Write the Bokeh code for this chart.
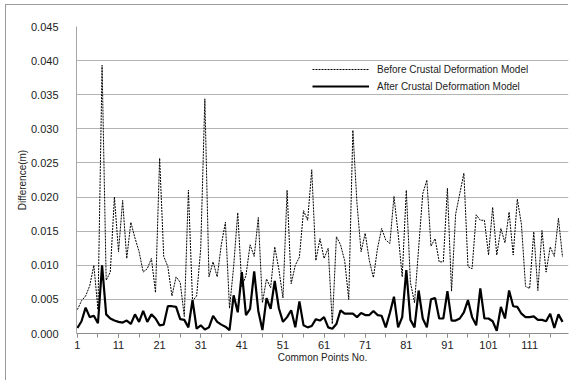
from bokeh.plotting import figure
from bokeh.models import Range1d, FixedTicker, NumeralTickFormatter, Legend, LegendItem
from bokeh.embed import file_html
from bokeh.resources import INLINE

# ---- data ----
point_no = list(range(1, 120))

before_model = [
    0.0035, 0.0048, 0.0055, 0.0070, 0.0100, 0.0035, 0.0393, 0.0078, 0.0090, 0.0200,
    0.0120, 0.0195, 0.0110, 0.0163, 0.0140, 0.0120, 0.0090, 0.0095, 0.0110, 0.0060,
    0.0257, 0.0113, 0.0098, 0.0055, 0.0083, 0.0075, 0.0025, 0.0210, 0.0048, 0.0055,
    0.0125, 0.0344, 0.0083, 0.0105, 0.0083, 0.0130, 0.0163, 0.0037, 0.0098, 0.0177,
    0.0068, 0.0085, 0.0130, 0.0113, 0.0170, 0.0045, 0.0080, 0.0067, 0.0127, 0.0094,
    0.0052, 0.0210, 0.0073, 0.0100, 0.0112, 0.0180, 0.0166, 0.0240, 0.0107, 0.0139,
    0.0110, 0.0125, 0.0014, 0.0142, 0.0130, 0.0107, 0.0050, 0.0298, 0.0191, 0.0120,
    0.0147, 0.0107, 0.0082, 0.0125, 0.0154, 0.0137, 0.0132, 0.0201, 0.0147, 0.0083,
    0.0210, 0.0075, 0.0045, 0.0125, 0.0205, 0.0225, 0.0128, 0.0139, 0.0105, 0.0105,
    0.0213, 0.0062, 0.0175, 0.0205, 0.0235, 0.0098, 0.0095, 0.0174, 0.0166, 0.0166,
    0.0115, 0.0185, 0.0115, 0.0154, 0.0133, 0.0178, 0.0115, 0.0197, 0.0160, 0.0069,
    0.0066, 0.0149, 0.0063, 0.0151, 0.0090, 0.0127, 0.0113, 0.0169, 0.0112,
]

after_model = [
    0.0008, 0.0018, 0.0038, 0.0024, 0.0026, 0.0015, 0.0100, 0.0028, 0.0022, 0.0019,
    0.0017, 0.0016, 0.0019, 0.0014, 0.0028, 0.0017, 0.0033, 0.0017, 0.0028, 0.0022,
    0.0012, 0.0013, 0.0040, 0.0040, 0.0039, 0.0021, 0.0020, 0.0009, 0.0049, 0.0007,
    0.0012, 0.0006, 0.0009, 0.0026, 0.0017, 0.0013, 0.0010, 0.0005, 0.0056, 0.0031,
    0.0090, 0.0027, 0.0036, 0.0091, 0.0033, 0.0005, 0.0052, 0.0036, 0.0077, 0.0037,
    0.0017, 0.0024, 0.0034, 0.0009, 0.0047, 0.0012, 0.0009, 0.0011, 0.0021, 0.0019,
    0.0024, 0.0009, 0.0007, 0.0014, 0.0034, 0.0029, 0.0029, 0.0029, 0.0024, 0.0030,
    0.0027, 0.0027, 0.0033, 0.0027, 0.0026, 0.0009, 0.0030, 0.0054, 0.0009, 0.0024,
    0.0093, 0.0020, 0.0009, 0.0063, 0.0022, 0.0009, 0.0050, 0.0052, 0.0022, 0.0022,
    0.0062, 0.0019, 0.0019, 0.0022, 0.0031, 0.0049, 0.0024, 0.0012, 0.0066, 0.0022,
    0.0022, 0.0018, 0.0004, 0.0039, 0.0022, 0.0063, 0.0040, 0.0039, 0.0029, 0.0024,
    0.0024, 0.0025, 0.0020, 0.0020, 0.0018, 0.0029, 0.0008, 0.0028, 0.0017,
]

x_tick_labels = [1, 11, 21, 31, 41, 51, 61, 71, 81, 91, 101, 111]
x_minor_ticks = list(range(1, 120, 5))
y_ticks = [0.0, 0.005, 0.010, 0.015, 0.020, 0.025, 0.030, 0.035, 0.040, 0.045]

series_labels = ["Before Crustal Deformation Model", "After Crustal Deformation Model"]

FONT = "Liberation Sans"
TEXT = "#222222"

p = figure(width=563, height=376, output_backend="svg", toolbar_location=None,
           x_range=Range1d(0.78, 120.45), y_range=Range1d(0.0, 0.045),
           min_border_left=70, min_border_right=1, min_border_top=21, min_border_bottom=48)
p.outline_line_color = None
p.background_fill_color = "white"
p.border_fill_color = "white"
p.styles = {"margin-left": "6px", "margin-top": "5px",
            "box-shadow": "-1px -1px 0 0 #9a9a9a"}

# grid
p.xgrid.grid_line_color = None
p.ygrid.grid_line_color = "#b3b3b3"
p.ygrid.grid_line_width = 1

# x axis
xa = p.xaxis[0]
xa.ticker = FixedTicker(ticks=x_tick_labels, minor_ticks=x_minor_ticks)
xa.axis_line_color = "#8c8c8c"
xa.major_tick_line_color = "#8c8c8c"
xa.minor_tick_line_color = "#8c8c8c"
xa.major_tick_out = 4
xa.major_tick_in = 0
xa.minor_tick_out = 4
xa.minor_tick_in = 0
xa.major_label_standoff = 3
xa.major_label_text_font = FONT
xa.major_label_text_font_size = "11px"
xa.major_label_text_color = TEXT
xa.axis_label = "Common Points No."
xa.axis_label_text_font = FONT
xa.axis_label_text_font_size = "10px"
xa.axis_label_text_font_style = "normal"
xa.axis_label_text_color = TEXT
xa.axis_label_standoff = 0

# y axis
ya = p.yaxis[0]
ya.ticker = FixedTicker(ticks=y_ticks)
ya.formatter = NumeralTickFormatter(format="0.000")
ya.axis_line_color = "#a6a6a6"
ya.major_tick_line_color = None
ya.minor_tick_line_color = None
ya.major_tick_out = 0
ya.major_tick_in = 0
ya.major_label_standoff = 18
ya.major_label_text_font = FONT
ya.major_label_text_font_size = "11px"
ya.major_label_text_color = TEXT
ya.axis_label = "Difference(m)"
ya.axis_label_text_font = FONT
ya.axis_label_text_font_size = "10px"
ya.axis_label_text_font_style = "normal"
ya.axis_label_text_color = TEXT
ya.axis_label_standoff = 0

r_before = p.line(point_no, before_model, line_color="black", line_width=1, line_dash="2 1")
r_after = p.line(point_no, after_model, line_color="black", line_width=2.2)

legend = Legend(items=[LegendItem(label=series_labels[0], renderers=[r_before]),
                       LegendItem(label=series_labels[1], renderers=[r_after])],
                location=(236, 241), padding=0, margin=0, spacing=5,
                glyph_width=57, glyph_height=12, label_height=12, label_standoff=8,
                label_text_font=FONT, label_text_font_size="10px", label_text_color=TEXT,
                background_fill_alpha=0, border_line_alpha=0)
p.add_layout(legend)

open("out.html", "w").write(file_html(p, INLINE))
